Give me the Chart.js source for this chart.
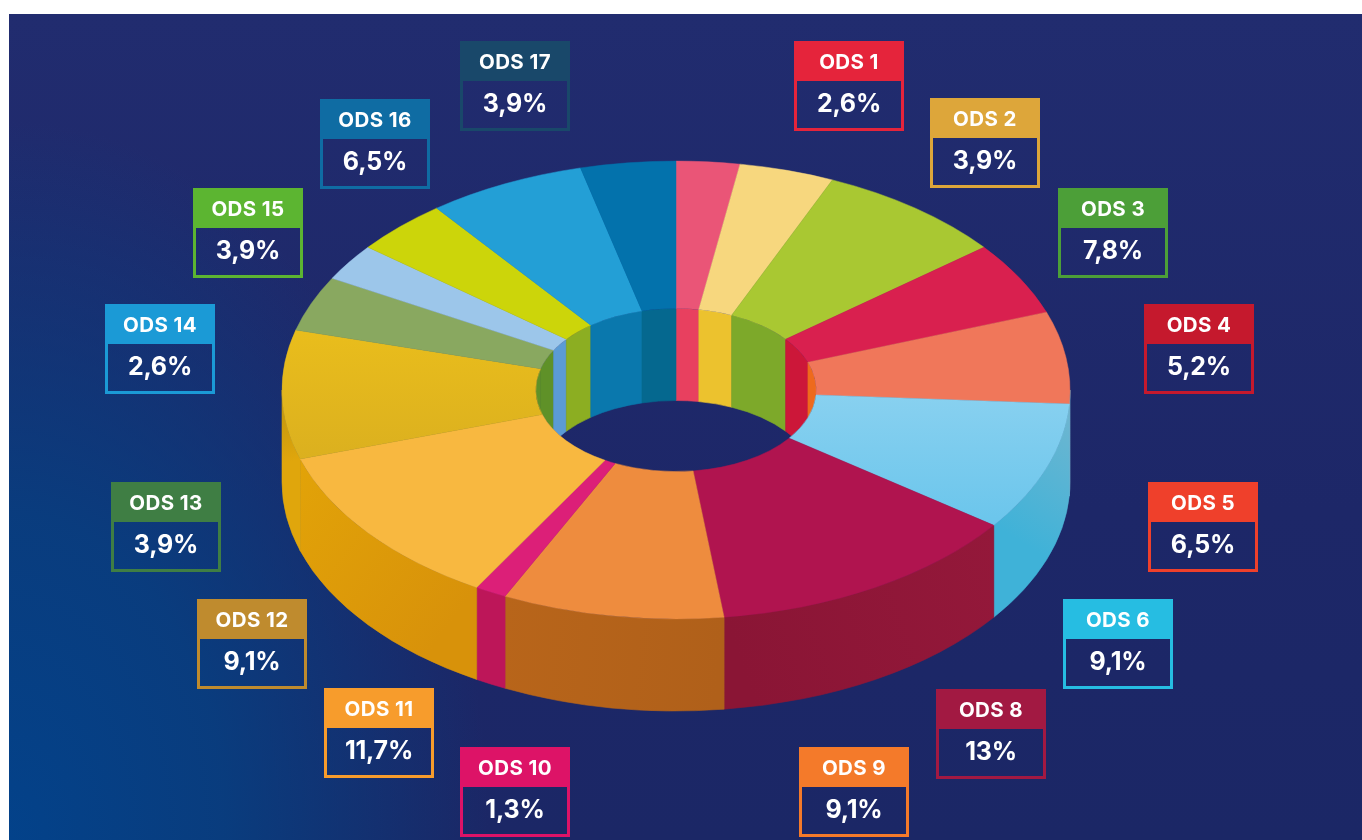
<!DOCTYPE html>
<html lang="pt">
<head>
<meta charset="utf-8">
<title>ODS</title>
<script src="https://cdn.jsdelivr.net/npm/chart.js@4"></script>
<style>
  html, body { margin: 0; padding: 0; background: #fff; }
  body { width: 1362px; height: 840px; overflow: hidden; position: relative; font-family: Inter, "Open Sans", sans-serif; }
  #bg {
    position: absolute; left: 9px; top: 14px; right: 0; bottom: 0;
    background:
      radial-gradient(ellipse 480px 720px at 0px 826px, #03428a 0%, rgba(6,64,130,0.85) 45%, rgba(11,63,126,0) 100%),
      linear-gradient(180deg, #212c6f 0%, #1d2768 60%, #1b2766 100%);
  }
  #chart { position: absolute; left: 0; top: 0; }
  .tag { position: absolute; width: 110px; height: 90px; box-sizing: border-box; border: 3px solid; color: #fff; text-align: center; }
  .tag .head { height: 38px; line-height: 38px; margin: -1px -1px 0; font-size: 20.5px; font-weight: 700; letter-spacing: 0.4px; white-space: nowrap; }
  .tag .val { height: 47px; line-height: 44px; font-size: 25px; font-weight: 700; letter-spacing: -0.2px; }
</style>
</head>
<body>
<div id="bg"></div>
<canvas id="chart" width="1362" height="840"></canvas>
<div id="tags"></div>
<script>
const labels = ["ODS 1", "ODS 2", "ODS 3", "ODS 4", "ODS 5", "ODS 6", "ODS 8", "ODS 9", "ODS 10", "ODS 11", "ODS 12", "ODS 13", "ODS 14", "ODS 15", "ODS 16", "ODS 17"];
const values = [2.6, 3.9, 7.8, 5.2, 6.5, 9.1, 13, 9.1, 1.3, 11.7, 9.1, 3.9, 2.6, 3.9, 6.5, 3.9];

const topColors = ["#ea5577", "#f7d77e", "#a9c832", "#d9204f", "#f0775a", "#7ccaec", "#b0144f", "#ee8c3e", "#dc1f78", "#f8b840", "#e2bb28", "#89a860", "#9cc6ea", "#ccd50a", "#239fd6", "#0372ac"];
const wallFrom = ["#000", "#000", "#000", "#000", "#7dbdd4", "#70b6d0", "#94183a", "#b0601a", "#bd1659", "#d8920a", "#e0a60c", "#000", "#000", "#000", "#000", "#000"];
const wallTo = ["#000", "#000", "#000", "#000", "#7dbdd4", "#3fb2d8", "#8a1535", "#b8651a", "#bd1659", "#e2a308", "#b8920f", "#000", "#000", "#000", "#000", "#000"];
const innerColors = ["#e8405f", "#ecc22e", "#7da92a", "#cc1739", "#ee6a1c", "#000", "#000", "#000", "#000", "#000", "#5f9128", "#5f9128", "#5b9bd5", "#8cae22", "#0a78ad", "#05688f"];

const tagColors = ["#e5243b", "#dda63a", "#4c9f38", "#c5192d", "#ef402b", "#26bde2", "#a21942", "#f47a2a", "#dd1367", "#f79c2c", "#bf8b2e", "#3f7e44", "#1b9ad6", "#5cb531", "#0f6ca3", "#19486a"];
const tagX = [794, 930, 1058, 1144, 1148, 1063, 936, 799, 460, 324, 197, 111, 105, 193, 320, 460];
const tagY = [41, 98, 188, 304, 482, 599, 689, 747, 747, 688, 599, 482, 304, 188, 99, 41];

document.getElementById("tags").innerHTML = labels.map((name, i) => `
  <div class="tag" style="left:${tagX[i]}px;top:${tagY[i]}px;border-color:${tagColors[i]}">
    <div class="head" style="background:${tagColors[i]}">${name}</div>
    <div class="val">${String(values[i]).replace(".", ",")}%</div>
  </div>`).join("");

const centerY = 390;
const squash = 0.581;
const depth = 92;

function wall(ctx, x, r, a0, a1, fill) {
  if (a1 <= a0) return;
  const ry = r * squash;
  ctx.beginPath();
  ctx.ellipse(x, centerY, r, ry, 0, a0, a1);
  ctx.ellipse(x, centerY + depth, r, ry, 0, a1, a0, true);
  ctx.closePath();
  ctx.fillStyle = fill;
  ctx.strokeStyle = fill;
  ctx.lineWidth = 0.6;
  ctx.fill();
  ctx.stroke();
}

// squashes the flat doughnut and puts the side walls under it
const extrude = {
  id: "extrude",
  beforeDatasetsDraw(chart) {
    const ctx = chart.ctx;
    const arcs = chart.getDatasetMeta(0).data;

    arcs.forEach((arc, i) => {
      const a0 = Math.max(arc.startAngle, 0);
      const a1 = Math.min(arc.endAngle, Math.PI);
      if (a1 <= a0) return;
      const r = arc.outerRadius;
      const g = ctx.createLinearGradient(arc.x + r * Math.cos(a0), centerY + r * squash * Math.sin(a0), arc.x + r * Math.cos(a1), centerY + r * squash * Math.sin(a1));
      g.addColorStop(0, wallFrom[i]);
      g.addColorStop(1, wallTo[i]);
      wall(ctx, arc.x, r, a0, a1, g);
    });

    ctx.save();
    const first = arcs[0];
    ctx.beginPath();
    ctx.ellipse(first.x, centerY, first.innerRadius, first.innerRadius * squash, 0, 0, Math.PI * 2);
    ctx.clip();
    arcs.forEach((arc, i) => {
      wall(ctx, arc.x, arc.innerRadius, Math.max(arc.startAngle, -Math.PI / 2), Math.min(arc.endAngle, 0), innerColors[i]);
      wall(ctx, arc.x, arc.innerRadius, Math.max(arc.startAngle, Math.PI), Math.min(arc.endAngle, Math.PI * 1.5), innerColors[i]);
    });
    ctx.restore();
  },
  beforeDatasetDraw(chart) {
    const ctx = chart.ctx;
    const x = chart.getDatasetMeta(0).data[0].x;
    ctx.save();
    ctx.translate(x, centerY);
    ctx.scale(1, squash);
    ctx.translate(-x, -chart.getDatasetMeta(0).data[0].y);
  },
  afterDatasetDraw(chart) {
    chart.ctx.restore();
  },
};

const ctx = document.getElementById("chart").getContext("2d");

// the two slices with a visible shade on their top face
const fills = topColors.slice();
const skyFill = ctx.createLinearGradient(0, 400, 0, 640);
skyFill.addColorStop(0, "#8cd2f0");
skyFill.addColorStop(1, "#6cc6ec");
fills[5] = skyFill;
const goldFill = ctx.createLinearGradient(0, 320, 0, 540);
goldFill.addColorStop(0, "#e9bd1c");
goldFill.addColorStop(1, "#dbb01f");
fills[10] = goldFill;

new Chart(ctx, {
  type: "doughnut",
  data: {
    labels: labels,
    datasets: [
      {
        data: values,
        backgroundColor: fills,
        borderColor: fills,
        borderWidth: 0.6,
        clip: false,
      },
    ],
  },
  options: {
    responsive: false,
    animation: false,
    cutout: "35.6%",
    radius: 394,
    layout: { padding: { right: 10 } },
    plugins: {
      legend: { display: false },
      tooltip: { enabled: false },
    },
  },
  plugins: [extrude],
});
</script>
</body>
</html>
